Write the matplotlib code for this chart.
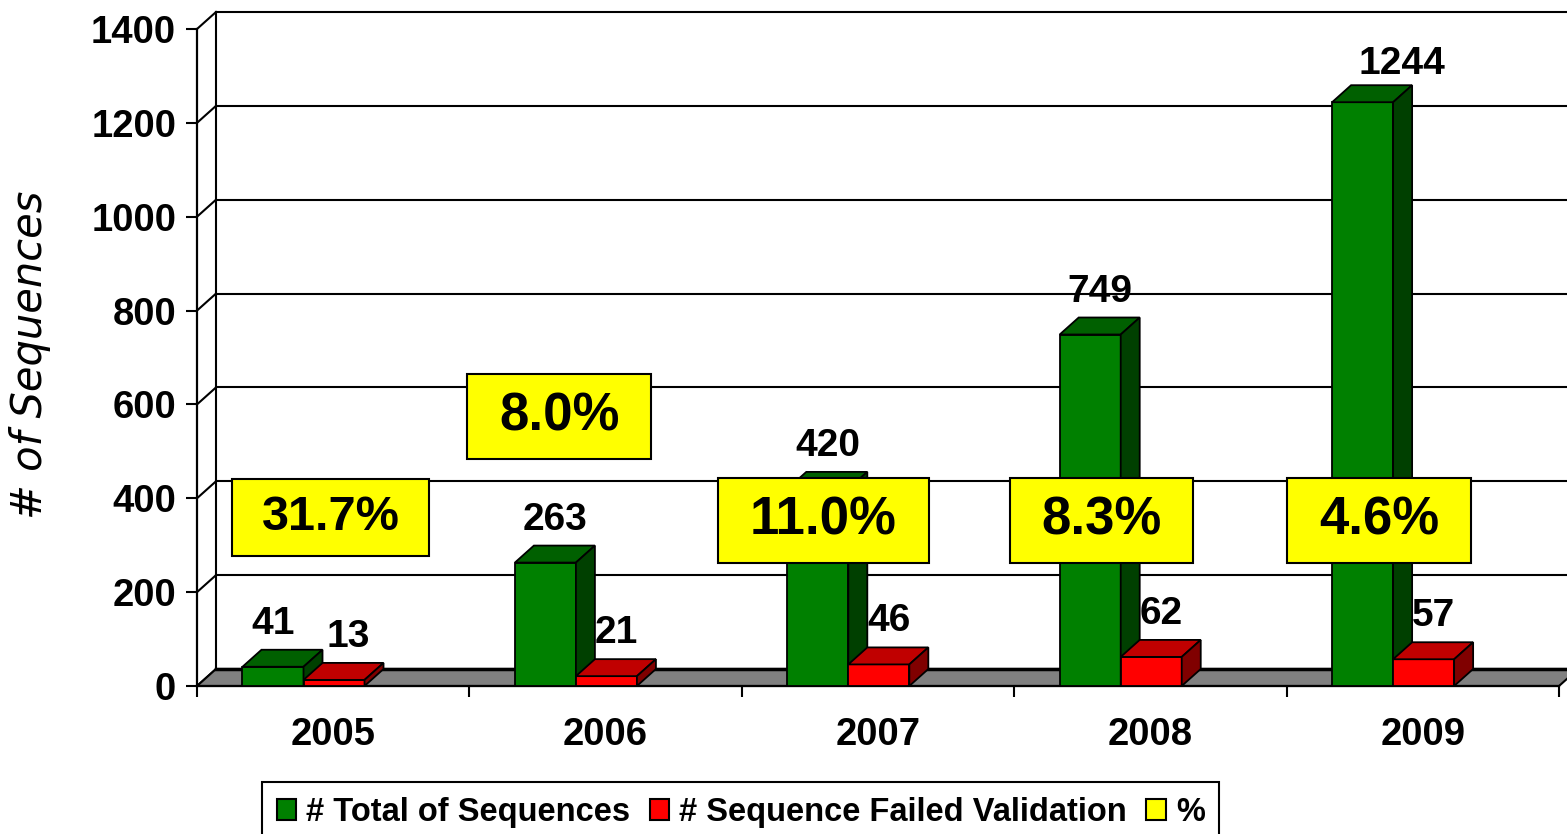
import numpy as np
import matplotlib
matplotlib.use("Agg")
import matplotlib.pyplot as plt
from matplotlib.patches import Polygon, Patch
from matplotlib.path import Path

# data
years = ["2005", "2006", "2007", "2008", "2009"]
total_seqs = [41, 263, 420, 749, 1244]
failed_seqs = [13, 21, 46, 62, 57]
y_ticks = [0, 200, 400, 600, 800, 1000, 1200, 1400]

# where the yellow % labels sit (shift from category centre, height in data units, font size)
pct_dx = [-0.01, -0.17, -0.20, -0.18, -0.16]
pct_y = [360, 575, 352, 352, 352]
pct_size = [35, 38, 38, 38, 38]
# small nudges (pixels) for the value labels
total_nudge = [(-10, 0), (0, 0), (0, 0), (0, 0), (29, -5)]
failed_nudge = [(4, 0), (0, 0), (0, 0), (0, 0), (0, 0)]

GREEN = ("#008000", "#006000", "#004000")
RED = ("#FF0000", "#C00000", "#800000")
YELLOW = "#FFFF00"

plt.rcParams["font.family"] = ["Liberation Sans", "DejaVu Sans"]
plt.rcParams["font.weight"] = "bold"

W, H = 1567, 834
fig = plt.figure(figsize=(W / 100, H / 100), dpi=100)
ax_px = (197, 686, 1362, 657)  # left, bottom (from top), width, height in pixels
ax = fig.add_axes([ax_px[0] / W, (H - ax_px[1]) / H, ax_px[2] / W, ax_px[3] / H])
ax.set_xlim(0, 5)
ax.set_ylim(0, 1400)

# depth of the fake 3d box, in data units
ddx = 19 / ax_px[2] * 5
ddy = 17 / ax_px[3] * 1400

# back wall grid + side wall diagonals
for v in y_ticks:
    ax.plot([ddx, 5 + ddx + 0.2], [v + ddy, v + ddy], color="black", lw=1.5, zorder=1, clip_on=False)
    ax.plot([0, ddx], [v, v + ddy], color="black", lw=1.5, zorder=1, clip_on=False)
ax.plot([ddx, ddx], [ddy, 1400 + ddy], color="black", lw=1.5, zorder=1, clip_on=False)

# floor
floor = Polygon([(0, 0), (5, 0), (5 + ddx, ddy), (ddx, ddy)], closed=True,
                fc="#808080", ec="black", lw=1.5, zorder=2, clip_on=False)
ax.add_patch(floor)
ax.plot([ddx, 5 + ddx + 0.2], [ddy, ddy], color="black", lw=2.5, zorder=2, clip_on=False)


def draw_bar(x0, w, v, colors):
    front, top, side = colors
    faces = [
        ([(x0, 0), (x0 + w, 0), (x0 + w, v), (x0, v)], front),
        ([(x0, v), (x0 + w, v), (x0 + w + ddx, v + ddy), (x0 + ddx, v + ddy)], top),
        ([(x0 + w, 0), (x0 + w + ddx, ddy), (x0 + w + ddx, v + ddy), (x0 + w, v)], side),
    ]
    for pts, c in faces:
        ax.add_patch(Polygon(pts, closed=True, fc=c, ec="black", lw=1.3,
                             joinstyle="miter", zorder=3, clip_on=False))


bw = 0.224
lab_font = dict(fontsize=28, fontweight="bold", ha="center", va="baseline")
for i in range(len(years)):
    gx = i + 0.167
    rx = gx + bw
    draw_bar(gx, bw, total_seqs[i], GREEN)
    draw_bar(rx, bw, failed_seqs[i], RED)
    dx, dy = total_nudge[i]
    ax.annotate(str(total_seqs[i]), (gx + bw / 2, total_seqs[i]),
                xytext=(10 + dx, 33 + dy), textcoords="offset pixels",
                zorder=5, annotation_clip=False, **lab_font)
    dx, dy = failed_nudge[i]
    ax.annotate(str(failed_seqs[i]), (rx + bw / 2, failed_seqs[i]),
                xytext=(10 + dx, 33 + dy), textcoords="offset pixels",
                zorder=5, annotation_clip=False, **lab_font)


def pct_box(x0, y0, width, height, mutation_size):
    px = 0.6 * mutation_size
    py = 0.33 * mutation_size
    xa, ya = x0 - px, y0 - py
    xb, yb = x0 + width + px, y0 + height + py
    return Path([(xa, ya), (xb, ya), (xb, yb), (xa, yb), (xa, ya)], closed=True)


# % failed labels
for i in range(len(years)):
    pct = failed_seqs[i] / total_seqs[i] * 100
    ax.text(i + 0.5 + pct_dx[i], pct_y[i], f"{pct:.1f}%", fontsize=pct_size[i],
            fontweight="bold", ha="center", va="center", zorder=6,
            bbox=dict(boxstyle=pct_box, fc=YELLOW, ec="black", lw=1.5))

# axes
for s in ["top", "right"]:
    ax.spines[s].set_visible(False)
for s in ["left", "bottom"]:
    ax.spines[s].set_linewidth(1.6)
    ax.spines[s].set_zorder(2.5)
ax.set_facecolor("none")
ax.set_yticks(y_ticks)
ax.tick_params(axis="y", length=8, width=1.5, pad=7, labelsize=27.5)
ax.set_xticks(range(6))
ax.set_xticklabels([])
ax.set_xticks(np.arange(5) + 0.5, years, minor=True)
ax.tick_params(axis="x", which="major", length=8, width=1.5)
ax.tick_params(axis="x", which="minor", length=0, pad=22, labelsize=27.5)

fig.text(30 / W, 1 - 355 / H, "# of Sequences", rotation=90, ha="center", va="center",
         family="DejaVu Sans", style="oblique", fontweight="normal", fontsize=30)

handles = [
    Patch(fc=GREEN[0], ec="black", lw=1.5, label="# Total of Sequences"),
    Patch(fc=RED[0], ec="black", lw=1.5, label="# Sequence Failed Validation"),
    Patch(fc=YELLOW, ec="black", lw=1.5, label="%"),
]
leg = fig.legend(handles=handles, loc="upper left", bbox_to_anchor=(262 / W, 1 - 782 / H),
                 ncol=3, frameon=True, fancybox=False, edgecolor="black", framealpha=1,
                 prop=dict(family="Liberation Sans", weight="bold", size=23.5),
                 handlelength=0.6, handleheight=0.6, handletextpad=0.3,
                 columnspacing=0.6, borderpad=0.45, borderaxespad=0)
leg.get_frame().set_linewidth(1.5)

fig.savefig("out.png", dpi=100)
